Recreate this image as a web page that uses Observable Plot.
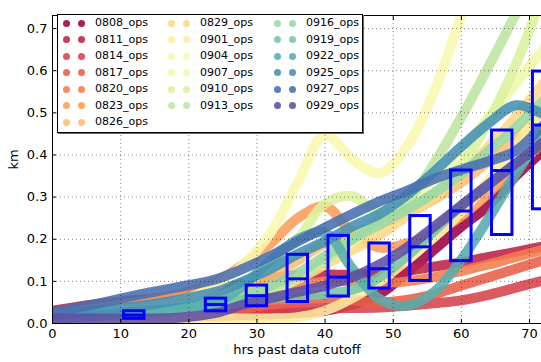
<!DOCTYPE html>
<html><head><meta charset="utf-8">
<script src="https://cdn.jsdelivr.net/npm/d3@7"></script>
<script src="https://cdn.jsdelivr.net/npm/@observablehq/plot@0.6"></script>
<style>
body{margin:0;background:#fff;}
#wrap{position:relative;width:541px;height:362px;font-family:"DejaVu Sans",sans-serif;}
#legend{position:absolute;left:57px;top:14px;width:304px;height:117px;border:1px solid #000;background:#fff;box-shadow:1px 1px 0 #666;}
.item{position:absolute;height:14px;font-size:11px;line-height:14px;color:#000;white-space:nowrap;}
.dot{position:absolute;width:7px;height:7px;border-radius:50%;}
</style></head><body><div id="wrap"></div>
<script>
const hours = [0, 6, 12, 18, 24, 28, 32, 36, 40, 44, 48, 52, 56, 60, 64, 68, 72, 76];
const series = ["0808_ops","0811_ops","0814_ops","0817_ops","0820_ops","0823_ops","0826_ops","0829_ops","0901_ops","0904_ops","0907_ops","0910_ops","0913_ops","0916_ops","0919_ops","0922_ops","0925_ops","0927_ops","0929_ops"];
const v0808 = [0.010,0.012,0.014,0.016,0.018,0.020,0.022,0.025,0.030,0.045,0.070,0.120,0.175,0.230,0.280,0.350,0.410,0.470];
const v0811 = [0.030,0.045,0.055,0.065,0.080,0.095,0.108,0.114,0.116,0.116,0.119,0.125,0.135,0.145,0.158,0.170,0.183,0.196];
const v0814 = [0.008,0.010,0.012,0.015,0.020,0.026,0.032,0.036,0.037,0.037,0.038,0.042,0.048,0.055,0.068,0.085,0.102,0.120];
const v0817 = [0.010,0.012,0.015,0.020,0.028,0.035,0.045,0.055,0.060,0.055,0.050,0.056,0.070,0.090,0.110,0.130,0.150,0.170];
const v0820 = [0.015,0.020,0.028,0.038,0.050,0.062,0.075,0.090,0.100,0.100,0.095,0.100,0.110,0.125,0.140,0.158,0.175,0.190];
const v0823 = [0.020,0.035,0.050,0.068,0.100,0.140,0.190,0.250,0.278,0.215,0.180,0.190,0.215,0.255,0.310,0.370,0.430,0.490];
const v0826 = [0.015,0.020,0.030,0.045,0.065,0.085,0.110,0.150,0.190,0.215,0.235,0.260,0.295,0.335,0.385,0.440,0.510,0.580];
const v0829 = [0.010,0.015,0.020,0.030,0.045,0.060,0.080,0.105,0.140,0.175,0.210,0.255,0.300,0.355,0.420,0.490,0.570,0.650];
const v0901 = [0.005,0.006,0.008,0.010,0.012,0.012,0.012,0.015,0.030,0.060,0.100,0.150,0.205,0.265,0.340,0.420,0.520,0.620];
const v0904 = [0.020,0.025,0.035,0.050,0.090,0.140,0.215,0.335,0.448,0.390,0.357,0.420,0.550,0.730,0.900,1.100,1.300,1.500];
const v0907 = [0.010,0.015,0.020,0.030,0.040,0.055,0.075,0.110,0.150,0.195,0.240,0.290,0.345,0.410,0.490,0.570,0.650,0.730];
const v0910 = [0.015,0.020,0.030,0.040,0.060,0.090,0.140,0.200,0.285,0.302,0.262,0.275,0.310,0.375,0.480,0.615,0.780,0.940];
const v0913 = [0.010,0.015,0.020,0.030,0.045,0.060,0.080,0.110,0.150,0.200,0.250,0.290,0.380,0.490,0.610,0.735,0.860,0.980];
const v0916 = [0.012,0.018,0.025,0.035,0.050,0.065,0.090,0.120,0.160,0.200,0.235,0.270,0.310,0.355,0.410,0.465,0.530,0.600];
const v0919 = [0.015,0.020,0.028,0.035,0.045,0.055,0.060,0.065,0.070,0.080,0.110,0.160,0.220,0.280,0.330,0.380,0.430,0.480];
const v0922 = [0.012,0.018,0.025,0.035,0.050,0.090,0.150,0.200,0.215,0.130,0.058,0.042,0.075,0.152,0.250,0.355,0.450,0.540];
const v0925 = [0.020,0.030,0.040,0.055,0.075,0.100,0.130,0.165,0.195,0.230,0.260,0.305,0.360,0.420,0.475,0.518,0.498,0.480];
const v0927 = [0.027,0.045,0.066,0.085,0.105,0.130,0.160,0.195,0.228,0.260,0.290,0.315,0.343,0.365,0.385,0.410,0.470,0.530];
const v0929 = [0.012,0.012,0.012,0.013,0.025,0.045,0.060,0.075,0.090,0.110,0.140,0.180,0.230,0.280,0.330,0.380,0.430,0.480];
const values = [v0808,v0811,v0814,v0817,v0820,v0823,v0826,v0829,v0901,v0904,v0907,v0910,v0913,v0916,v0919,v0922,v0925,v0927,v0929];

// box statistics
const boxHours = [12, 24, 30, 36, 42, 48, 54, 60, 66, 72];
const boxQ1 = [0.011,0.029,0.041,0.051,0.064,0.083,0.101,0.148,0.210,0.271];
const boxMed = [0.020,0.045,0.066,0.106,0.110,0.130,0.182,0.267,0.363,0.471];
const boxQ3 = [0.029,0.059,0.090,0.163,0.208,0.190,0.255,0.363,0.458,0.598];

const xTicks = [0,10,20,30,40,50,60,70];
const yTicks = [0,0.1,0.2,0.3,0.4,0.5,0.6,0.7];
const xMax = 71.76, yMax = 0.731, boxW = 3;

const colors = series.map((s,i) => d3.interpolateSpectral(i/(series.length-1)));
const boxes = boxHours.map((h,i) => ({h, q1: boxQ1[i], med: boxMed[i], q3: boxQ3[i]}));

const lineMarks = series.map((s,i) => Plot.line(hours.map((h,j)=>({hour:h, km: values[i][j]})), {
  x: "hour", y: "km", stroke: colors[i], strokeWidth: 10, strokeOpacity: 0.88,
  curve: "catmull-rom", clip: true
}));

const plot = Plot.plot({
  width: 541, height: 362,
  marginLeft: 52, marginRight: 0, marginTop: 15, marginBottom: 39,
  x: {domain: [0, xMax]},
  y: {domain: [0, yMax]},
  style: {fontFamily: "'DejaVu Sans', sans-serif", fontSize: "13px", color: "#000", background: "#fff"},
  marks: [
    ...lineMarks,
    Plot.gridX(xTicks, {stroke: "#000", strokeOpacity: 0.6, strokeDasharray: "1,3", strokeWidth: 0.8}),
    Plot.gridY(yTicks, {stroke: "#000", strokeOpacity: 0.6, strokeDasharray: "1,3", strokeWidth: 0.8}),
    Plot.rect(boxes, {x1: d => d.h - boxW/2, x2: d => d.h + boxW/2, y1: "q1", y2: "q3", stroke: "#0000ff", strokeWidth: 3, fill: "none", clip: true}),
    Plot.ruleY(boxes, {y: "med", x1: d => d.h - boxW/2, x2: d => d.h + boxW/2, stroke: "#0000ff", strokeWidth: 3, clip: true}),
    Plot.ruleX([0], {stroke: "#000"}),
    Plot.ruleY([0], {stroke: "#000"}),
    Plot.ruleY([yMax], {stroke: "#000"}),
    Plot.axisX(xTicks, {anchor: "bottom", tickSize: -4, tickPadding: 9, label: null, fontSize: 13, tickFormat: d => String(d)}),
    Plot.axisX(xTicks, {anchor: "top", tickSize: -4, label: null, tickFormat: () => ""}),
    Plot.axisY(yTicks, {anchor: "left", tickSize: -4, tickPadding: 9, label: null, fontSize: 13, tickFormat: d3.format(".1f")}),
    Plot.text(["km"], {frameAnchor: "left", dx: -39, rotate: -90, fontSize: 13}),
    Plot.text(["hrs past data cutoff"], {frameAnchor: "bottom", dy: 30, fontSize: 13})
  ]
});
const wrap = document.getElementById("wrap");
wrap.appendChild(plot);

// legend
const legend = document.createElement("div");
legend.id = "legend";
series.forEach((s,i) => {
  const col = i < 7 ? 0 : i < 13 ? 1 : 2;
  const row = col === 0 ? i : col === 1 ? i - 7 : i - 13;
  const colX = [0, 105, 211][col];
  const cy = 8 + 16.5*row;
  [8.7, 23].forEach(dx => {
    const d = document.createElement("div");
    d.className = "dot";
    d.style.left = (colX + dx - 3.5) + "px";
    d.style.top = (cy - 3.5) + "px";
    d.style.background = colors[i];
    d.style.opacity = 0.88;
    legend.appendChild(d);
  });
  const t = document.createElement("div");
  t.className = "item";
  t.style.left = (colX + 37) + "px";
  t.style.top = (cy - 7) + "px";
  t.textContent = s;
  legend.appendChild(t);
});
wrap.appendChild(legend);
</script>
</body></html>
